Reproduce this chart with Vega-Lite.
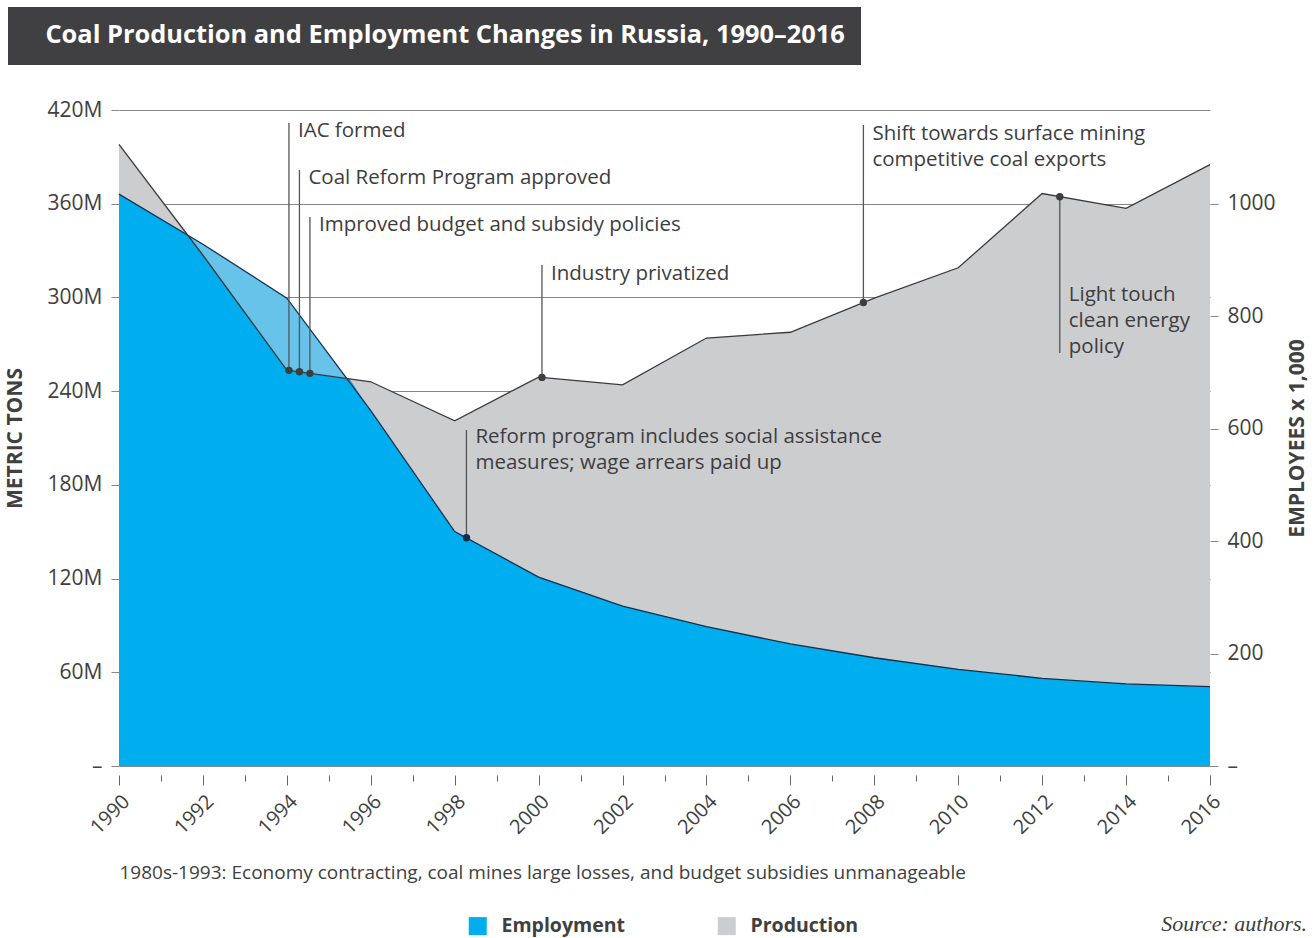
{
  "$schema": "https://vega.github.io/schema/vega-lite/v6.json",
  "background": "white",
  "padding": {"left": 4, "top": 7, "right": 5, "bottom": 5},
  "width": 1091,
  "height": 656,
  "config": {
    "font": "Open Sans",
    "view": {"stroke": null},
    "axis": {"labelColor": "#404040", "titleColor": "#404040", "tickColor": "#888888", "gridColor": "#858585", "domain": false}
  },
  "title": {"text": "Source: authors.", "orient": "bottom", "anchor": "end", "font": "Liberation Serif", "fontStyle": "italic", "fontWeight": "normal", "fontSize": 22, "color": "#3d3d3f", "offset": -22},
  "datasets": {
    "series": [
      {"year": 1990, "production": 398, "employment": 1017},
      {"year": 1992, "production": 327, "employment": 928},
      {"year": 1994, "production": 253.5, "employment": 832},
      {"year": 1996, "production": 246, "employment": 632},
      {"year": 1998, "production": 221, "employment": 417},
      {"year": 2000, "production": 249, "employment": 336},
      {"year": 2002, "production": 244, "employment": 284.5},
      {"year": 2004, "production": 274, "employment": 248},
      {"year": 2006, "production": 277.7, "employment": 217},
      {"year": 2008, "production": 299.5, "employment": 192.5},
      {"year": 2010, "production": 319, "employment": 172},
      {"year": 2012, "production": 366.5, "employment": 156},
      {"year": 2014, "production": 357, "employment": 146},
      {"year": 2016, "production": 385, "employment": 141}
    ],
    "overlap": [
      {"year": 1990, "overlap": 1017},
      {"year": 1991.65, "overlap": 944},
      {"year": 1992, "overlap": 909},
      {"year": 1994, "overlap": 704},
      {"year": 1995.5, "overlap": 688},
      {"year": 1996, "overlap": 632},
      {"year": 1998, "overlap": 417},
      {"year": 2000, "overlap": 336},
      {"year": 2002, "overlap": 284.5},
      {"year": 2004, "overlap": 248},
      {"year": 2006, "overlap": 217},
      {"year": 2008, "overlap": 192.5},
      {"year": 2010, "overlap": 172},
      {"year": 2012, "overlap": 156},
      {"year": 2014, "overlap": 146},
      {"year": 2016, "overlap": 141}
    ],
    "notes": [
      {"year": 1994.05, "dot": 253.3, "top": 411.7, "ty": 406.6, "on": "production", "label": "IAC formed"},
      {"year": 1994.3, "dot": 252.4, "top": 381.6, "ty": 376.5, "on": "production", "label": "Coal Reform Program approved"},
      {"year": 1994.55, "dot": 251.4, "top": 351.5, "ty": 346.4, "on": "production", "label": "Improved budget and subsidy policies"},
      {"year": 2000.08, "dot": 248.8, "top": 320.8, "ty": 315.0, "on": "production", "label": "Industry privatized"},
      {"year": 1998.28, "dot": 146.1, "top": 215.1, "ty": 210.6, "on": "employment", "label": "Reform program includes social assistance|measures; wage arrears paid up"},
      {"year": 2007.74, "dot": 296.7, "top": 410.4, "ty": 404.6, "on": "production", "label": "Shift towards surface mining|competitive coal exports"},
      {"year": 2012.42, "dot": 364.5, "top": 264.4, "ty": 301.6, "on": "production", "label": "Light touch|clean energy|policy"}
    ]
  },
  "encoding": {
    "x": {
      "field": "year", "type": "quantitative",
      "scale": {"domain": [1990, 2016], "nice": false, "zero": false},
      "axis": {
        "values": [1990,1991,1992,1993,1994,1995,1996,1997,1998,1999,2000,2001,2002,2003,2004,2005,2006,2007,2008,2009,2010,2011,2012,2013,2014,2015,2016],
        "format": "d",
        "labelExpr": "datum.value % 2 === 0 ? datum.label : ''",
        "grid": false,
        "offset": 9,
        "tickSize": {"condition": {"test": "datum.value % 2 === 0", "value": 10}, "value": 6},
        "tickColor": "#666666",
        "labelAngle": -45,
        "labelAlign": "right",
        "labelBaseline": "top",
        "labelPadding": 6,
        "labelFontSize": 20,
        "labelOverlap": false,
        "labelFlush": false,
        "labelBound": false,
        "title": "1980s-1993: Economy contracting, coal mines large losses, and budget subsidies unmanageable",
        "titleAnchor": "start",
        "titleAlign": "left",
        "titleFontWeight": "normal",
        "titleFontSize": 19,
        "titlePadding": 26
      }
    }
  },
  "layer": [
    {
      "data": {"name": "series"},
      "mark": {"type": "area", "color": "#67c3ea"},
      "encoding": {
        "y": {
          "field": "employment", "type": "quantitative",
          "scale": {"domain": [0, 1166.667], "nice": false},
          "axis": {
            "orient": "right",
            "values": [0, 200, 400, 600, 800, 1000],
            "labelExpr": "datum.value === 0 ? '–' : datum.label",
            "format": "d",
            "grid": false,
            "tickSize": 8,
            "labelPadding": 9,
            "labelFontSize": 21,
            "title": "EMPLOYEES x 1,000",
            "titleFontSize": 21,
            "titleFontWeight": "bold",
            "titleAngle": -90,
            "titleBaseline": "top",
            "titlePadding": 11
          }
        }
      }
    },
    {
      "data": {"name": "series"},
      "mark": {"type": "area"},
      "encoding": {
        "y": {
          "field": "production", "type": "quantitative",
          "scale": {"domain": [0, 420], "nice": false},
          "axis": {
            "orient": "left",
            "values": [0, 60, 120, 180, 240, 300, 360, 420],
            "labelExpr": "datum.value === 0 ? '–' : datum.value + 'M'",
            "grid": true,
            "gridWidth": 1.2,
            "tickSize": 8,
            "labelPadding": 9,
            "labelFontSize": 21,
            "title": "METRIC TONS",
            "titleFontSize": 21,
            "titleFontWeight": "bold",
            "titlePadding": 22
          }
        },
        "color": {
          "datum": "Production",
          "type": "nominal",
          "scale": {"domain": ["Employment", "Production"], "range": ["#00adee", "#cccdcf"]},
          "legend": {
            "orient": "none", "legendX": 349, "legendY": 806,
            "direction": "horizontal", "title": null,
            "symbolType": "square", "symbolSize": 324, "symbolStrokeWidth": 0,
            "labelFontSize": 19.5, "labelFontWeight": "bold", "labelColor": "#404040",
            "labelOffset": 14, "columnPadding": 92, "padding": 0
          }
        }
      }
    },
    {
      "encoding": {
        "y": {"type": "quantitative", "scale": {"domain": [0, 1166.667], "nice": false}, "axis": null}
      },
      "layer": [
        {
          "data": {"name": "overlap"},
          "mark": {"type": "area"},
          "encoding": {
            "y": {"field": "overlap"},
            "color": {"datum": "Employment", "type": "nominal"}
          }
        },
        {
          "data": {"name": "series"},
          "mark": {"type": "line", "color": "#13314f", "strokeWidth": 1.3},
          "encoding": {"y": {"field": "employment"}}
        }
      ]
    },
    {
      "encoding": {
        "y": {"type": "quantitative", "scale": {"domain": [0, 420], "nice": false}, "axis": null}
      },
      "layer": [
        {
          "data": {"name": "series"},
          "mark": {"type": "line", "color": "#3a3a3c", "strokeWidth": 1.3},
          "encoding": {"y": {"field": "production"}}
        },
        {
          "data": {"name": "notes"},
          "mark": {"type": "rule", "color": "#555555", "strokeWidth": 1.3},
          "encoding": {"y": {"field": "dot"}, "y2": {"field": "top"}}
        },
        {
          "data": {"name": "notes"},
          "transform": [{"filter": "datum.on === 'production'"}],
          "mark": {"type": "point", "filled": true, "opacity": 1, "size": 55, "color": "#3d3d3f"},
          "encoding": {
            "y": {"field": "dot"},
            "shape": {
              "datum": "Coal Production and Employment Changes in Russia, 1990–2016",
              "type": "nominal",
              "scale": {"range": ["circle"]},
              "legend": {
                "orient": "none", "legendX": -111, "legendY": -103,
                "title": null,
                "fillColor": "#404042",
                "padding": 15.5,
                "symbolOpacity": 0, "symbolSize": 1, "symbolStrokeWidth": 0,
                "labelColor": "#ffffff", "labelFontSize": 25.4, "labelFontWeight": "bold",
                "labelOffset": -3.5, "labelLimit": 2000
              }
            }
          }
        },
        {
          "data": {"name": "notes"},
          "transform": [{"filter": "datum.on === 'employment'"}],
          "mark": {"type": "point", "filled": true, "opacity": 1, "size": 55, "color": "#0f2d4c"},
          "encoding": {"y": {"field": "dot"}}
        },
        {
          "data": {"name": "notes"},
          "mark": {"type": "text", "align": "left", "baseline": "middle", "dx": 9, "fontSize": 20.5, "color": "#3d3d3f", "lineBreak": "|", "lineHeight": 26},
          "encoding": {"y": {"field": "ty"}, "text": {"field": "label", "type": "nominal"}}
        }
      ]
    }
  ],
  "resolve": {"scale": {"y": "independent"}}
}
